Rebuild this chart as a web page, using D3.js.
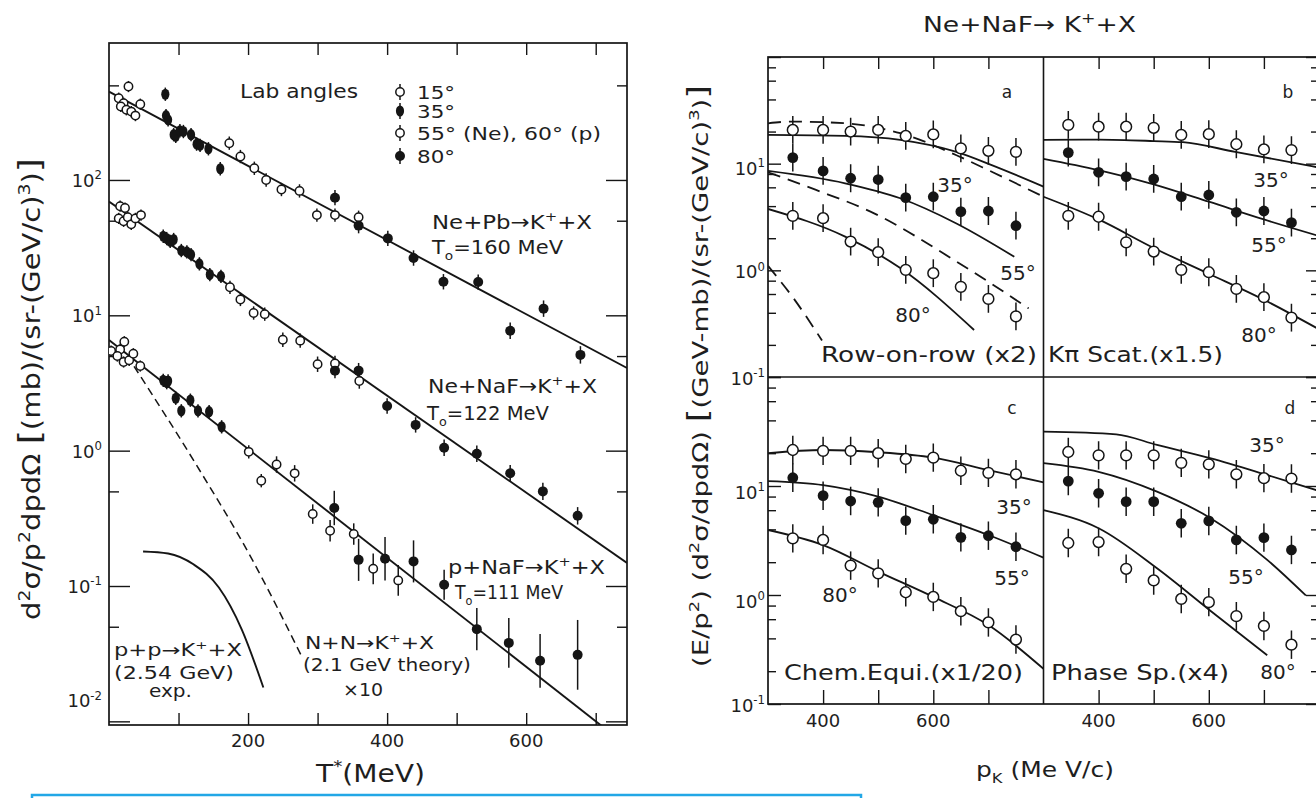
<!DOCTYPE html>
<html><head><meta charset="utf-8">
<script src="https://cdn.jsdelivr.net/npm/d3@7/dist/d3.min.js"></script>
<style>
html,body{margin:0;padding:0;background:#fff;}
svg{display:block;}
text{font-family:"DejaVu Sans","Liberation Sans",sans-serif;fill:#1e1e1e;}
</style></head><body>
<svg id="chart" width="1316" height="798"></svg>
<script>
// ================= LEFT PLOT DATA =================
const leftXTicks = [100, 200, 300, 400, 500, 600, 700];
const leftXLabels = [200, 400, 600];
const leftYMajor = [0.01, 0.1, 1, 10, 100];
const leftYMinor = [0.05, 0.5, 5, 50, 500];
const leftYLabelExp = ["-2", "-1", "0", "1", "2"];

// Ne + Pb -> K+ + X  (T0 = 160 MeV)
const nePbT = [14,21,28,17,25,32,38,45, 81,82,85,93,96,102,107,118,126,131,143,160, 173,189,209,226,248,274,299,325,359, 325,359,401,438,481,531,577,625,678];
const nePbV = [402,369,490,349,330,320,299,363, 430,299,278,216,210,231,228,216,184,180,170,121, 187,149,122,100,85,83,55,55,53, 74,46,37,26.5,17.7,17.6,7.7,11.2,5.1];
const nePbA = [15,15,15,15,15,15,15,15, 35,35,35,35,35,35,35,35,35,35,35,35, 55,55,55,55,55,55,55,55,55, 80,80,80,80,80,80,80,80,80];
const nePbE = [1.1,1.1,1.1,1.1,1.1,1.1,1.1,1.1, 1.12,1.12,1.12,1.12,1.12,1.12,1.12,1.12,1.12,1.12,1.12,1.12, 1.12,1.12,1.12,1.12,1.12,1.12,1.12,1.12,1.12, 1.14,1.14,1.14,1.14,1.14,1.14,1.15,1.15,1.16];

// Ne + NaF -> K+ + X  (T0 = 122 MeV)
const neNaFT = [16,23,14,21,27,32,38,46, 78,83,88,93,104,112,118,130,145,161, 174,189,208,224,250,275,300,325,360, 325,359,400,441,482,529,577,624,674];
const neNaFV = [64,62,52,49.5,53,47,52,55, 38.4,36.9,35.2,36.3,30.1,29.4,28.1,24,20,19.4, 16.1,13.1,10.4,10.2,6.6,6.5,4.35,4.4,3.27, 3.9,3.9,2.14,1.55,1.05,0.95,0.68,0.5,0.33];
const neNaFA = [15,15,15,15,15,15,15,15, 35,35,35,35,35,35,35,35,35,35, 55,55,55,55,55,55,55,55,55, 80,80,80,80,80,80,80,80,80];
const neNaFE = [1.1,1.1,1.1,1.1,1.1,1.1,1.1,1.1, 1.12,1.12,1.12,1.12,1.12,1.12,1.12,1.12,1.12,1.12, 1.12,1.12,1.12,1.12,1.13,1.13,1.14,1.14,1.14, 1.14,1.14,1.14,1.14,1.15,1.15,1.15,1.16,1.16];

// p + NaF -> K+ + X  (T0 = 111 MeV)
const pNaFT = [3,16,22,12,21,29,35,45, 78,83,85,96,104,117,128,144,162, 201,219,241,267,293,318,352,380,416, 324,359,397,438,482,529,575,620,674];
const pNaFV = [5.45,5.6,6.38,5.0,4.52,4.65,5.2,4.22, 3.31,3.18,3.27,2.44,1.97,2.36,1.97,1.94,1.5, 0.98,0.6,0.79,0.68,0.34,0.256,0.242,0.134,0.11, 0.377,0.156,0.159,0.152,0.102,0.048,0.038,0.028,0.031];
const pNaFA = [15,15,15,15,15,15,15,15, 35,35,35,35,35,35,35,35,35, 60,60,60,60,60,60,60,60,60, 80,80,80,80,80,80,80,80,80];
const pNaFE = [1.1,1.1,1.1,1.1,1.1,1.1,1.1,1.1, 1.12,1.12,1.12,1.12,1.12,1.12,1.12,1.12,1.12, 1.12,1.12,1.15,1.15,1.18,1.2,1.2,1.3,1.3, 1.34,1.43,1.45,1.43,1.29,1.43,1.53,1.58,1.81];

// fitted exponentials (end points) and reference curves
const nePbLine = [[0, 449], [745, 4.08]];
const neNaFLine = [[0, 69.2], [745, 0.148]];
const pNaFLine = [[0, 6.57], [745, 0.0066]];
const nnTheory = [[36, 4.2], [124, 0.81], [205, 0.16], [276, 0.031]];
const ppExp = [[49, 0.18], [85, 0.174], [122, 0.144], [158, 0.0975], [191, 0.0477], [222, 0.0178]];

// ================= RIGHT PANELS DATA =================
const rightXTicks = [400, 500, 600, 700];
const rightXLabels = [400, 600];
const rightYMajor = [0.1, 1, 10, 100];
const rightYMinor = [0.2, 0.4, 0.6, 0.8, 2, 4, 6, 8, 20, 40, 60, 80];
const rightYLabelExp = ["-1", "0", "1"];
const pK = [345, 400, 450, 500, 550, 600, 650, 700, 750];
const panelErr = 1.35;

const a35 = [20.7, 20.7, 20, 20.7, 18.2, 18.8, 13.9, 13.2, 12.9];
const a55 = [11.4, 8.55, 7.3, 7.1, 4.8, 4.9, 3.55, 3.6, 2.62];
const a80 = [3.24, 3.08, 1.86, 1.48, 1.01, 0.94, 0.70, 0.54, 0.37];
const b35 = [23.1, 22.2, 22.2, 21.7, 18.6, 18.9, 15.2, 13.6, 13.4];
const b55 = [12.7, 8.3, 7.55, 7.19, 4.9, 5.09, 3.5, 3.6, 2.8];
const b80 = [3.24, 3.18, 1.83, 1.5, 1.01, 0.96, 0.67, 0.56, 0.36];
const c35 = [21.4, 21.0, 21.0, 20.0, 17.7, 18.2, 13.8, 13.2, 12.8];
const c55 = [11.9, 8.15, 7.28, 7.08, 4.81, 4.95, 3.38, 3.5, 2.77];
const c80 = [3.31, 3.2, 1.86, 1.58, 1.06, 0.96, 0.71, 0.56, 0.39];
const d35 = [20.5, 19.1, 19.1, 19.1, 16.3, 15.8, 12.8, 11.8, 11.7];
const d55 = [11.1, 8.57, 7.18, 7.18, 4.55, 4.78, 3.2, 3.36, 2.59];
const d80 = [3.0, 3.06, 1.74, 1.36, 0.92, 0.86, 0.64, 0.52, 0.35];

// model curves [pK, value]
const aSolid35 = [[300,18.6],[440,18.2],[540,16.7],[642,12.9],[706,9.7],[800,6.1]];
const aDash35 = [[300,23.9],[342,24.8],[440,23.9],[540,19.3],[642,12.0],[706,8.4],[800,4.9]];
const aSolid55 = [[300,8.55],[440,6.55],[540,4.74],[642,2.75],[747,1.34]];
const aDash55 = [[300,8.3],[386,5.7],[486,3.55],[642,1.21],[773,0.44]];
const aSolid80 = [[300,3.76],[440,2.07],[540,1.05],[674,0.276]];
const aDash80 = [[300,1.1],[346,0.55],[398,0.22]];
const bSolid35 = [[300,16.7],[400,16.8],[500,16.3],[553,15.9],[648,12.9],[800,9.2]];
const bSolid55 = [[300,11.1],[400,8.7],[500,6.4],[600,4.4],[700,3.0],[800,2.1]];
const bSolid80 = [[300,4.9],[400,3.0],[500,1.62],[600,0.93],[700,0.53],[800,0.28]];
const cSolid35 = [[300,20],[400,21.4],[500,20.4],[600,18.2],[700,14],[800,10.8]];
const cSolid55 = [[300,11.1],[400,10.2],[500,8.0],[600,5.4],[700,3.55],[800,2.2]];
const cSolid80 = [[300,3.95],[400,2.87],[500,1.64],[600,0.96],[700,0.53],[800,0.21]];
const dSolid35 = [[300,31.5],[432,29.8],[506,23.8],[604,17.9],[706,12.6],[800,9.0]];
const dSolid55 = [[300,16.2],[400,13.5],[506,8.88],[604,5.04],[706,2.1],[776,0.99]];
const dSolid80 = [[300,6.0],[400,4.1],[506,1.76],[604,0.71],[706,0.28]];

// ================= DRAWING =================
const svg = d3.select("#chart");
const INK = "#151515";

function rich(g, x, y, parts, o = {}) {
  const size = o.size || 20;
  const t = g.append("text").attr("x", x).attr("y", y)
    .attr("font-size", size).attr("text-anchor", o.anchor || "start");
  if (o.len) t.attr("textLength", o.len).attr("lengthAdjust", "spacingAndGlyphs");
  if (o.rot) t.attr("transform", `rotate(${o.rot},${x},${y})`);
  let cur = 0;
  parts.forEach(p => {
    let txt, sh = 0, fs = size;
    if (typeof p === "string") { txt = p; }
    else {
      txt = p.t;
      if (p.sup) { sh = -0.42 * size; fs = size * 0.65; }
      if (p.sub) { sh = 0.28 * size; fs = size * 0.65; }
      if (p.fs) fs = p.fs;
    }
    t.append("tspan").attr("dy", sh - cur).attr("font-size", fs).text(txt);
    cur = sh;
  });
  return t;
}

function tickAxis(gen, tx, ty, width) {
  const g = svg.append("g").attr("transform", `translate(${tx},${ty})`).call(gen);
  g.select(".domain").remove();
  g.selectAll("text").remove();
  g.selectAll("line").attr("stroke", INK).attr("stroke-width", width || 1.4);
  return g;
}

function marker(g, cx, cy, type, r) {
  if (type === "open") {
    g.append("circle").attr("cx", cx).attr("cy", cy).attr("r", r)
      .attr("fill", "#fff").attr("stroke", INK).attr("stroke-width", 1.5);
  } else if (type === "filled") {
    g.append("circle").attr("cx", cx).attr("cy", cy).attr("r", r).attr("fill", INK);
  } else {
    g.append("ellipse").attr("cx", cx).attr("cy", cy).attr("rx", r * 0.95).attr("ry", r * 1.3).attr("fill", INK);
  }
}

function errBar(g, cx, y1, y2) {
  g.append("line").attr("x1", cx).attr("x2", cx).attr("y1", y1).attr("y2", y2)
    .attr("stroke", INK).attr("stroke-width", 1.5);
}

// ---------- LEFT PLOT ----------
const L = { x0: 109, x1: 627, y0: 43, y1: 725 };
const lx = d3.scaleLinear().domain([0, 745]).range([L.x0, L.x1]);
const ly = d3.scaleLog().domain([Math.pow(10, -2.027), Math.pow(10, 3.012)]).range([L.y1, L.y0]);

svg.append("clipPath").attr("id", "clipL").append("rect")
  .attr("x", L.x0).attr("y", L.y0).attr("width", L.x1 - L.x0).attr("height", L.y1 - L.y0);

tickAxis(d3.axisLeft(ly).tickValues(leftYMajor).tickSize(-21), L.x0, 0);
tickAxis(d3.axisLeft(ly).tickValues(leftYMinor).tickSize(-10), L.x0, 0);
tickAxis(d3.axisRight(ly).tickValues(leftYMajor).tickSize(-21), L.x1, 0);
tickAxis(d3.axisRight(ly).tickValues(leftYMinor).tickSize(-10), L.x1, 0);
tickAxis(d3.axisTop(lx).tickValues(leftXTicks).tickSize(-12), 0, L.y0);
tickAxis(d3.axisBottom(lx).tickValues(leftXTicks).tickSize(-12), 0, L.y1);

svg.append("rect").attr("x", L.x0).attr("y", L.y0).attr("width", L.x1 - L.x0).attr("height", L.y1 - L.y0)
  .attr("fill", "none").attr("stroke", INK).attr("stroke-width", 1.7);

// y tick labels
leftYMajor.forEach((v, i) => {
  const yy = (i === 0) ? ly(v) - 14 : ly(v) + 7;
  rich(svg, 102, yy, ["10", { t: leftYLabelExp[i], sup: true }], { size: 18, anchor: "end" });
});
// x tick labels
leftXLabels.forEach(v => {
  svg.append("text").attr("x", lx(v)).attr("y", 747).attr("font-size", 18).attr("text-anchor", "middle").text(v);
});

const gL = svg.append("g").attr("clip-path", "url(#clipL)");
const lineL = d3.line().x(d => lx(d[0])).y(d => ly(d[1]));
const curveL = d3.line().x(d => lx(d[0])).y(d => ly(d[1])).curve(d3.curveMonotoneX);
[nePbLine, neNaFLine, pNaFLine].forEach(ln => {
  gL.append("path").attr("d", lineL(ln)).attr("fill", "none").attr("stroke", INK).attr("stroke-width", 1.9);
});
gL.append("path").attr("d", curveL(nnTheory)).attr("fill", "none").attr("stroke", INK)
  .attr("stroke-width", 1.5).attr("stroke-dasharray", "8,5");
gL.append("path").attr("d", curveL(ppExp)).attr("fill", "none").attr("stroke", INK).attr("stroke-width", 1.9);

function angleType(a) { return a === 35 ? "diamond" : (a === 80 ? "filled" : "open"); }
function angleR(a) { return a === 35 ? 4.3 : (a === 80 ? 5 : 4.2); }

function drawLeftSet(T, V, A, E) {
  T.forEach((t, i) => {
    errBar(gL, lx(t), ly(V[i] * E[i]), ly(V[i] / E[i]));
  });
  T.forEach((t, i) => {
    marker(gL, lx(t), ly(V[i]), angleType(A[i]), angleR(A[i]));
  });
}
drawLeftSet(nePbT, nePbV, nePbA, nePbE);
drawLeftSet(neNaFT, neNaFV, neNaFA, neNaFE);
drawLeftSet(pNaFT, pNaFV, pNaFA, pNaFE);

// legend
rich(svg, 240, 98, ["Lab angles"], { size: 19, len: 118 });
const legendRows = [[15, 92, ["15°"], 38], [35, 111, ["35°"], 38], [55, 133, ["55° (Ne), 60° (p)"], 184], [80, 156, ["80°"], 38]];
legendRows.forEach(([a, yy, txt, w]) => {
  errBar(svg, 400, yy - 8, yy + 8);
  marker(svg, 400, yy, angleType(a), angleR(a));
  rich(svg, 417, yy + 7, txt, { size: 18, len: w });
});

// reaction labels
rich(svg, 432, 229, ["Ne+Pb→K", { t: "+", sup: true }, "+X"], { size: 20, len: 160 });
rich(svg, 432, 254, ["T", { t: "o", sub: true }, "=160 MeV"], { size: 20, len: 131 });
rich(svg, 428, 393, ["Ne+NaF→K", { t: "+", sup: true }, "+X"], { size: 20, len: 169 });
rich(svg, 427, 420, ["T", { t: "o", sub: true }, "=122 MeV"], { size: 20, len: 122 });
rich(svg, 448, 574, ["p+NaF→K", { t: "+", sup: true }, "+X"], { size: 20, len: 157 });
rich(svg, 455, 599, ["T", { t: "o", sub: true }, "=111 MeV"], { size: 20, len: 108 });
rich(svg, 114, 656, ["p+p→K", { t: "+", sup: true }, "+X"], { size: 17, len: 128 });
rich(svg, 114, 679, ["(2.54 GeV)"], { size: 17, len: 120 });
rich(svg, 149, 697, ["exp."], { size: 17, len: 43 });
rich(svg, 305, 649, ["N+N→K", { t: "+", sup: true }, "+X"], { size: 17, len: 129 });
rich(svg, 303, 671, ["(2.1 GeV theory)"], { size: 17, len: 168 });
rich(svg, 343, 696, ["×10"], { size: 17, len: 40 });

// axis titles
rich(svg, 316, 782, ["T", { t: "*", sup: true }, "(MeV)"], { size: 24, len: 109 });
rich(svg, 40, 389, ["d", { t: "2", sup: true }, "σ/p", { t: "2", sup: true }, "dpdΩ ",
  { t: "[", fs: 30 }, "(mb)/(sr-(GeV/c)", { t: "3", sup: true }, ")", { t: "]", fs: 30 }],
  { size: 24, anchor: "middle", rot: -90, len: 462 });

// ---------- RIGHT PANELS ----------
const R = { x0: 768, xm: 1043.5, x1: 1319, y0: 57, ym: 377, y1: 704 };
const xA = d3.scaleLinear().domain([300, 800]).range([R.x0, R.xm]);
const xB = d3.scaleLinear().domain([300, 800]).range([R.xm, R.x1]);
const yT = d3.scaleLog().domain([0.1, 100]).range([R.ym, R.y0]);
const yBt = d3.scaleLog().domain([0.1, 100]).range([R.y1, R.ym]);

// ticks
tickAxis(d3.axisLeft(yT).tickValues(rightYMajor).tickSize(-13), R.x0, 0);
tickAxis(d3.axisLeft(yT).tickValues(rightYMinor).tickSize(-8), R.x0, 0);
tickAxis(d3.axisLeft(yBt).tickValues(rightYMajor).tickSize(-13), R.x0, 0);
tickAxis(d3.axisLeft(yBt).tickValues(rightYMinor).tickSize(-8), R.x0, 0);
tickAxis(d3.axisRight(yT).tickValues(rightYMajor).tickSize(-13), R.x1, 0);
tickAxis(d3.axisRight(yT).tickValues(rightYMinor).tickSize(-8), R.x1, 0);
tickAxis(d3.axisRight(yBt).tickValues(rightYMajor).tickSize(-13), R.x1, 0);
tickAxis(d3.axisRight(yBt).tickValues(rightYMinor).tickSize(-8), R.x1, 0);
tickAxis(d3.axisTop(xA).tickValues(rightXTicks).tickSize(-12), 0, R.y0);
tickAxis(d3.axisTop(xB).tickValues(rightXTicks).tickSize(-12), 0, R.y0);
tickAxis(d3.axisBottom(xA).tickValues(rightXTicks).tickSize(-14), 0, R.y1);
tickAxis(d3.axisBottom(xB).tickValues(rightXTicks).tickSize(-14), 0, R.y1);

svg.append("rect").attr("x", R.x0).attr("y", R.y0).attr("width", R.x1 - R.x0).attr("height", R.y1 - R.y0)
  .attr("fill", "none").attr("stroke", INK).attr("stroke-width", 1.7);
svg.append("line").attr("x1", R.xm).attr("x2", R.xm).attr("y1", R.y0).attr("y2", R.y1).attr("stroke", INK).attr("stroke-width", 1.6);
svg.append("line").attr("x1", R.x0).attr("x2", R.x1).attr("y1", R.ym).attr("y2", R.ym).attr("stroke", INK).attr("stroke-width", 1.6);

// y labels
[yT, yBt].forEach(sc => {
  [0.1, 1, 10].forEach((v, i) => {
    const off = (sc === yT && v === 10) ? 11 : (sc === yBt && v !== 0.1 ? 13 : 8);
    rich(svg, 765, sc(v) + off, ["10", { t: rightYLabelExp[i], sup: true }], { size: 18, anchor: "end" });
  });
});
[xA, xB].forEach(sc => {
  rightXLabels.forEach(v => {
    svg.append("text").attr("x", sc(v)).attr("y", 727).attr("font-size", 18).attr("text-anchor", "middle").text(v);
  });
});

function panel(id, xs, ys, px0, py0, px1, py1, series, curves) {
  svg.append("clipPath").attr("id", id).append("rect")
    .attr("x", px0).attr("y", py0).attr("width", px1 - px0).attr("height", py1 - py0);
  const g = svg.append("g").attr("clip-path", `url(#${id})`);
  const ln = d3.line().x(d => xs(d[0])).y(d => ys(d[1])).curve(d3.curveMonotoneX);
  curves.forEach(([c, dashed]) => {
    const p = g.append("path").attr("d", ln(c)).attr("fill", "none").attr("stroke", INK).attr("stroke-width", 1.8);
    if (dashed) p.attr("stroke-dasharray", "13,8");
  });
  series.forEach(([vals, type]) => {
    pK.forEach((p, i) => errBar(g, xs(p), ys(vals[i] * panelErr), ys(vals[i] / panelErr)));
    pK.forEach((p, i) => marker(g, xs(p), ys(vals[i]), type, 5.4));
  });
}
panel("clipA", xA, yT, R.x0, R.y0, R.xm, R.ym, [[a35, "open"], [a55, "filled"], [a80, "open"]],
  [[aSolid35, false], [aDash35, true], [aSolid55, false], [aDash55, true], [aSolid80, false], [aDash80, true]]);
panel("clipB", xB, yT, R.xm, R.y0, R.x1, R.ym, [[b35, "open"], [b55, "filled"], [b80, "open"]],
  [[bSolid35, false], [bSolid55, false], [bSolid80, false]]);
panel("clipC", xA, yBt, R.x0, R.ym, R.xm, R.y1, [[c35, "open"], [c55, "filled"], [c80, "open"]],
  [[cSolid35, false], [cSolid55, false], [cSolid80, false]]);
panel("clipD", xB, yBt, R.xm, R.ym, R.x1, R.y1, [[d35, "open"], [d55, "filled"], [d80, "open"]],
  [[dSolid35, false], [dSolid55, false], [dSolid80, false]]);

// panel annotations
const ann = [
  ["a", 1007, 98, 17], ["b", 1288, 98, 17], ["c", 1012, 414, 17], ["d", 1290, 414, 17],
  ["35°", 955, 192, 20], ["55°", 1018, 280, 20], ["80°", 913, 322, 20],
  ["35°", 1271, 187, 20], ["55°", 1269, 252, 20], ["80°", 1259, 342, 20],
  ["35°", 1014, 514, 20], ["55°", 1012, 585, 20], ["80°", 840, 602, 20],
  ["35°", 1267, 452, 20], ["55°", 1246, 584, 20], ["80°", 1278, 679, 20]
];
ann.forEach(([t, x, y, s]) => {
  svg.append("text").attr("x", x).attr("y", y).attr("font-size", s).attr("text-anchor", "middle").text(t);
});
rich(svg, 821, 362, ["Row-on-row (x2)"], { size: 21, len: 216 });
rich(svg, 1048, 362, ["Kπ Scat.(x1.5)"], { size: 21, len: 175 });
rich(svg, 784, 680, ["Chem.Equi.(x1/20)"], { size: 21, len: 239 });
rich(svg, 1051, 680, ["Phase Sp.(x4)"], { size: 21, len: 178 });

// titles
rich(svg, 923, 32, ["Ne+NaF→ K", { t: "+", sup: true }, "+X"], { size: 22, len: 213 });
rich(svg, 976, 777, ["p", { t: "K", sub: true }, " (Me V/c)"], { size: 22, len: 138 });
rich(svg, 708, 376, ["(E/p", { t: "2", sup: true }, ") (d", { t: "2", sup: true }, "σ/dpdΩ) ",
  { t: "[", fs: 28 }, "(GeV-mb)/(sr-(GeV/c)", { t: "3", sup: true }, ")", { t: "]", fs: 28 }],
  { size: 22, anchor: "middle", rot: -90, len: 582 });

// light-blue box at the bottom
svg.append("rect").attr("x", 32).attr("y", 795).attr("width", 829).attr("height", 20)
  .attr("fill", "none").attr("stroke", "#22a7e6").attr("stroke-width", 2.5);
</script>
</body></html>
